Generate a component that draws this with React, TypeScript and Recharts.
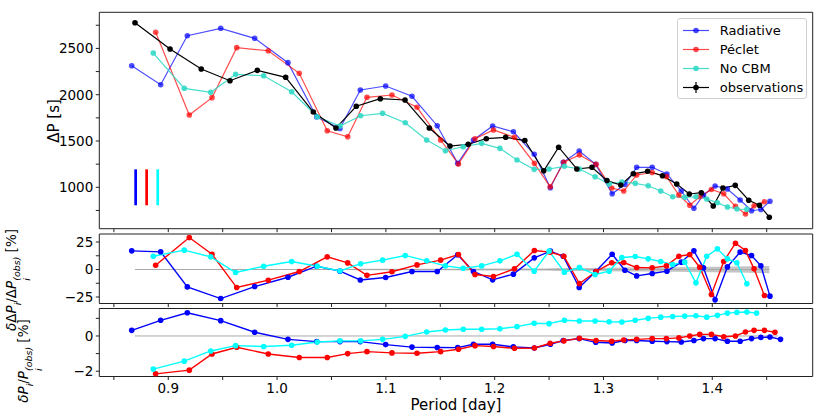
import { ComposedChart, Line, Area, XAxis, YAxis, ReferenceArea, ReferenceLine } from 'recharts';

const FONT = '"DejaVu Sans", Verdana, sans-serif';

// observed periods [day] and period spacings [s]
const obsPeriod = [0.8694, 0.9016, 0.9303, 0.9567, 0.9818, 1.0079, 1.0333, 1.0541, 1.0728, 1.0949, 1.1176, 1.1399, 1.1589, 1.1757, 1.1923, 1.2101, 1.2277, 1.2451, 1.2588, 1.2755, 1.2894, 1.3032, 1.3159, 1.3274, 1.3406, 1.3542, 1.3673, 1.3789, 1.3899, 1.4009, 1.4098, 1.4211, 1.4335, 1.4434, 1.4524, 1.4603];
const obsDP = [2777, 2493, 2277, 2151, 2263, 2188, 1813, 1640, 1875, 1957, 1943, 1640, 1446, 1465, 1525, 1540, 1505, 1178, 1433, 1198, 1216, 1073, 1025, 1146, 1173, 1125, 1036, 928, 942, 798, 992, 1021, 860, 806, 677];
const obsErrPct = [0.3, 0.3, 0.3, 0.3, 0.3, 0.3, 0.3, 0.3, 0.6, 0.6, 0.6, 0.6, 0.6, 0.9, 0.9, 0.9, 0.9, 0.9, 1.3, 1.3, 1.4, 1.5, 1.8, 1.9, 1.9, 2.0, 2.0, 2.3, 2.4, 2.5, 2.6, 2.8, 3.0, 3.1, 3.3];

// Radiative
const radPeriod = [0.8664, 0.8930, 0.9175, 0.9482, 0.9794, 1.0100, 1.0364, 1.0578, 1.0765, 1.0998, 1.1240, 1.1472, 1.1660, 1.1805, 1.1981, 1.2172, 1.2364, 1.2512, 1.2630, 1.2777, 1.2929, 1.3080, 1.3197, 1.3305, 1.3448, 1.3583, 1.3715, 1.3831, 1.3919, 1.4026, 1.4139, 1.4256, 1.4361, 1.4447, 1.4530, 1.4627];
const radDP = [2313, 2108, 2637, 2717, 2609, 2346, 1759, 1635, 2051, 2094, 1983, 1665, 1259, 1511, 1662, 1600, 1356, 996, 1270, 1392, 1248, 930, 1032, 1216, 1216, 1144, 960, 774, 917, 1014, 982, 863, 747, 760, 849];
const radResDP = [17.0, 16.1, -15.8, -26.4, -15.5, -7.0, 3.0, -1.5, -9.5, -7.2, -1.8, -1.8, 13.4, -1.8, -9.4, -4.2, 10.6, 16.7, 12.1, -16.4, -1.8, 13.9, -0.6, -5.8, -3.6, -1.5, 6.7, 17.0, 1.5, -27.6, 2.4, 15.8, 12.7, 3.3, -24.2];
const radResP = [0.32, 0.89, 1.32, 0.87, 0.21, -0.19, -0.32, -0.32, -0.32, -0.49, -0.63, -0.65, -0.66, -0.47, -0.47, -0.62, -0.68, -0.47, -0.26, -0.15, -0.36, -0.40, -0.26, -0.26, -0.30, -0.32, -0.34, -0.26, -0.15, -0.15, -0.30, -0.30, -0.15, -0.08, -0.06, -0.19];

// Péclet
const pecPeriod = [0.8884, 0.9193, 0.9402, 0.9629, 0.9919, 1.0204, 1.0461, 1.0649, 1.0826, 1.1056, 1.1286, 1.1503, 1.1667, 1.1819, 1.1989, 1.2182, 1.2365, 1.2510, 1.2636, 1.2779, 1.2932, 1.3076, 1.3186, 1.3305, 1.3448, 1.3578, 1.3693, 1.3793, 1.3885, 1.3992, 1.4105, 1.4213, 1.4305, 1.4384, 1.4479, 1.4576];
const pecDP = [2674, 1781, 1968, 2508, 2475, 2231, 1611, 1546, 1972, 1997, 1864, 1511, 1252, 1525, 1619, 1540, 1259, 1006, 1270, 1349, 1248, 992, 960, 1133, 1160, 1117, 917, 806, 898, 976, 930, 795, 712, 800, 844];
const pecResDP = [3.9, 29.1, 13.9, -16.4, -9.7, -1.8, 11.5, 6.0, -5.3, -2.0, 4.2, 8.5, 13.6, -4.5, -6.4, 0.6, 17.3, 15.8, 12.1, -12.7, -1.8, 6.1, 6.4, 1.8, 1.5, 3.3, 12.1, 13.6, 2.1, -22.7, 7.3, 23.9, 17.3, 0.6, -23.6];
const pecResP = [-2.15, -1.94, -1.02, -0.64, -1.02, -1.22, -1.22, -1.00, -0.89, -0.96, -0.98, -0.89, -0.75, -0.55, -0.60, -0.70, -0.68, -0.41, -0.28, -0.13, -0.26, -0.30, -0.23, -0.19, -0.15, -0.15, -0.11, 0.0, 0.09, 0.09, -0.04, 0.0, 0.23, 0.32, 0.32, 0.21];

// No CBM
const cbmPeriod = [0.8862, 0.9147, 0.9390, 0.9619, 0.9877, 1.0134, 1.0369, 1.0578, 1.0768, 1.0970, 1.1178, 1.1375, 1.1547, 1.1711, 1.1880, 1.2048, 1.2205, 1.2363, 1.2500, 1.2641, 1.2779, 1.2923, 1.3052, 1.3169, 1.3292, 1.3411, 1.3526, 1.3636, 1.3747, 1.3850, 1.3949, 1.4047, 1.4139, 1.4226, 1.4318, 1.4407];
const cbmDP = [2450, 2069, 2026, 2220, 2205, 2032, 1762, 1662, 1773, 1799, 1698, 1511, 1395, 1438, 1475, 1421, 1295, 1194, 1198, 1227, 1198, 1114, 1036, 1057, 1043, 1017, 960, 898, 892, 898, 874, 834, 787, 766, 762];
const cbmResDP = [12.1, 17.6, 11.5, -2.7, 3.0, 7.3, 3.0, -1.3, 5.3, 8.5, 12.8, 7.9, 3.3, 1.2, 3.3, 7.9, 13.9, -1.5, 16.7, -2.4, 1.8, -4.5, -1.5, 10.9, 11.8, 9.7, 7.3, 4.5, 6.7, -12.1, 12.1, 18.8, 9.7, 6.1, -13.0];
const cbmResP = [-1.88, -1.43, -0.85, -0.55, -0.60, -0.53, -0.34, -0.28, -0.28, -0.19, -0.02, 0.23, 0.34, 0.38, 0.38, 0.41, 0.53, 0.72, 0.70, 0.89, 0.85, 0.85, 0.81, 0.79, 0.89, 1.00, 1.07, 1.11, 1.13, 1.15, 1.07, 1.17, 1.30, 1.34, 1.36, 1.30];

// typical uncertainty bars drawn in the lower left of the top panel
const uncBars = [
  { p: 0.8700, lo: 806, hi: 1194, color: '#0000ff' },
  { p: 0.8801, lo: 806, hi: 1194, color: '#ff0000' },
  { p: 0.8903, lo: 806, hi: 1194, color: '#00ffff' },
];

const X_DOMAIN: [number, number] = [0.8366, 1.4923];
const X_TICKS = [0.85, 0.9, 0.95, 1.0, 1.05, 1.1, 1.15, 1.2, 1.25, 1.3, 1.35, 1.4, 1.45];
const X_LABELS = [0.9, 1.0, 1.1, 1.2, 1.3, 1.4];

const BLUE = '#0000ff';
const RED = '#ff0000';
const CYAN = '#00ffff';
const TURQ = '#33d9c6';

const legendItems = [
  { name: 'Radiative', color: BLUE, opacity: 0.7, err: false },
  { name: 'Péclet', color: RED, opacity: 0.7, err: false },
  { name: 'No CBM', color: TURQ, opacity: 0.9, err: false },
  { name: 'observations', color: '#000', opacity: 1, err: true },
];

const pts = (xs: number[], ys: number[]) => ys.map((v, i) => ({ p: xs[i], v }));
const fmt = (v: number) => (v < 0 ? '\u2212' + Math.abs(v) : String(v));
const has = (arr: number[], v: number) => arr.some((a) => Math.abs(a - v) < 1e-6);

const XTick = (props: any) => {
  const { x, y, payload, show } = props;
  if (!show || !has(X_LABELS, payload.value)) return <g />;
  return (
    <text x={x} y={y} dy="0.71em" textAnchor="middle" fontSize={13.5} fontFamily={FONT} fill="#000">
      {payload.value.toFixed(1)}
    </text>
  );
};

const YTick = (props: any) => {
  const { x, y, payload, labels } = props;
  if (!has(labels, payload.value)) return <g />;
  return (
    <text x={x} y={y} dy="0.36em" textAnchor="end" fontSize={13.5} fontFamily={FONT} fill="#000">
      {fmt(payload.value)}
    </text>
  );
};

function Panel({ top, height, mTop, xHeight, yDomain, yTicks, yLabels, showX, children }: any) {
  return (
    <div style={{ position: 'absolute', left: 0, top, width: 830, height }}>
      <ComposedChart width={830} height={height} margin={{ top: mTop, right: 17.3, bottom: 0, left: 39.3 }}>
        <XAxis
          type="number"
          dataKey="p"
          domain={X_DOMAIN}
          ticks={X_TICKS}
          interval={0}
          height={xHeight}
          allowDataOverflow
          axisLine={false}
          stroke="#222"
          tickSize={3.5}
          tickMargin={3.5}
          tick={<XTick show={showX} />}
        />
        <YAxis
          type="number"
          dataKey="v"
          domain={yDomain}
          ticks={yTicks}
          interval={0}
          width={60}
          allowDataOverflow
          axisLine={false}
          stroke="#222"
          tickSize={3.5}
          tickMargin={2.5}
          tick={<YTick labels={yLabels} />}
        />
        {children}
        <ReferenceArea x1={X_DOMAIN[0]} x2={X_DOMAIN[1]} y1={yDomain[0]} y2={yDomain[1]} fill="none" fillOpacity={0} stroke="#222" strokeWidth={1} />
      </ComposedChart>
    </div>
  );
}

const series = (data: any[], color: string, opacity: number, width = 1.2) => (
  <Line
    data={data}
    dataKey="v"
    type="linear"
    stroke={color}
    strokeOpacity={opacity}
    strokeWidth={width}
    dot={{ r: 2.8, fill: color, fillOpacity: opacity, strokeWidth: 0 }}
    activeDot={false}
    isAnimationActive={false}
  />
);

// subscript and superscript stacked on the same column, like mathtext
const Scripts = ({ sub, sup }: { sub: string; sup?: string }) => (
  <span style={{ display: 'inline-flex', flexDirection: 'column', fontSize: '0.7em', lineHeight: 1, verticalAlign: sup ? '-0.45em' : '-0.55em', fontStyle: 'italic' }}>
    {sup ? <span>({sup})</span> : null}
    <span>{sub}</span>
  </span>
);

const rotLabel = (left: number, top: number): any => ({
  position: 'absolute',
  left,
  top,
  transform: 'translate(-50%, -50%) rotate(-90deg)',
  fontSize: 13.5,
  whiteSpace: 'nowrap',
  lineHeight: 1.2,
});

export default function App() {
  const band = obsErrPct.map((e, i) => ({ p: obsPeriod[i], lo: -e, hi: e }));
  return (
    <div style={{ position: 'absolute', left: 0, top: 0, width: 830, height: 415, background: '#fff', fontFamily: FONT, overflow: 'hidden' }}>
      <Panel top={0} height={236} mTop={12.3} xHeight={7.3} yDomain={[553, 2890]} yTicks={[750, 1000, 1250, 1500, 1750, 2000, 2250, 2500, 2750]} yLabels={[1000, 1500, 2000, 2500]} showX={false}>
        {uncBars.map((b) => (
          <ReferenceLine key={b.color} segment={[{ x: b.p, y: b.lo }, { x: b.p, y: b.hi }]} stroke={b.color} strokeWidth={2.7} />
        ))}
        {series(pts(radPeriod, radDP), BLUE, 0.7)}
        {series(pts(pecPeriod, pecDP), RED, 0.7)}
        {series(pts(cbmPeriod, cbmDP), TURQ, 0.9)}
        {series(pts(obsPeriod, obsDP), '#000', 1)}
      </Panel>

      <Panel top={228} height={80} mTop={6} xHeight={4.5} yDomain={[-30.9, 32.3]} yTicks={[-25, -12.5, 0, 12.5, 25]} yLabels={[-25, 0, 25]} showX={false}>
        <Area data={band} dataKey={(d: any) => [d.lo, d.hi]} type="linear" fill="#c4c4c4" fillOpacity={1} stroke="none" isAnimationActive={false} />
        <ReferenceLine segment={[{ x: obsPeriod[0], y: 0 }, { x: obsPeriod[34], y: 0 }]} stroke="#a8a8a8" strokeWidth={1} />
        {series(pts(radPeriod, radResDP), BLUE, 1, 1.4)}
        {series(pts(pecPeriod, pecResDP), RED, 1, 1.4)}
        {series(pts(cbmPeriod, cbmResDP), CYAN, 1, 1.4)}
      </Panel>

      <Panel top={303.5} height={111.5} mTop={4.5} xHeight={39} yDomain={[-2.3, 1.56]} yTicks={[-2, -1, 0, 1]} yLabels={[-2, 0]} showX={true}>
        <ReferenceLine segment={[{ x: obsPeriod[0], y: 0 }, { x: obsPeriod[35], y: 0 }]} stroke="#a8a8a8" strokeWidth={1} />
        {series(pts(radPeriod, radResP), BLUE, 1, 1.4)}
        {series(pts(pecPeriod, pecResP), RED, 1, 1.4)}
        {series(pts(cbmPeriod, cbmResP), CYAN, 1, 1.4)}
      </Panel>

      {/* axis titles */}
      <div style={{ ...rotLabel(54, 120.5), fontSize: 15 }}>ΔP [s]</div>
      <div style={rotLabel(17, 280)}>
        <i>δ</i>Δ<i>P</i>
        <Scripts sub="i" />/Δ<i>P</i>
        <Scripts sub="i" sup="obs" /> [%]
      </div>
      <div style={rotLabel(29, 361)}>
        <i>δP</i>
        <Scripts sub="i" />/<i>P</i>
        <Scripts sub="i" sup="obs" /> [%]
      </div>
      <div style={{ position: 'absolute', left: 456, top: 405, transform: 'translate(-50%, -50%)', fontSize: 15, whiteSpace: 'nowrap' }}>
        Period [day]
      </div>

      {/* legend */}
      <div
        style={{
          position: 'absolute',
          left: 676.7,
          top: 18.3,
          width: 130.6,
          height: 80.7,
          boxSizing: 'border-box',
          border: '1px solid #d0d0d0',
          borderRadius: 3,
          background: 'rgba(255,255,255,0.8)',
          paddingTop: 1.5,
        }}
      >
        {legendItems.map((it) => (
          <div key={it.name} style={{ display: 'flex', alignItems: 'center', height: 19, fontSize: 13 }}>
            <svg width={36} height={19} style={{ marginLeft: 4, flex: 'none' }}>
              <line x1={1} y1={9.5} x2={27} y2={9.5} stroke={it.color} strokeOpacity={it.opacity} strokeWidth={1.2} />
              <circle cx={14} cy={9.5} r={2.8} fill={it.color} fillOpacity={it.opacity} />
              {it.err && <line x1={14} y1={4} x2={14} y2={15} stroke={it.color} strokeWidth={1.2} />}
            </svg>
            <span style={{ marginLeft: 2 }}>{it.name}</span>
          </div>
        ))}
      </div>
    </div>
  );
}
